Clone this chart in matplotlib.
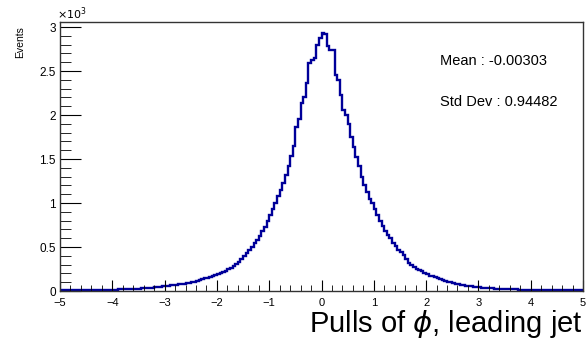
import numpy as np
import matplotlib
matplotlib.use("Agg")
import matplotlib.pyplot as plt
from matplotlib.ticker import MultipleLocator, FuncFormatter

plt.rcParams['font.family'] = ['Liberation Sans', 'DejaVu Sans']

# histogram: 200 bins from -5 to 5 (width 0.05)
bin_edges = np.linspace(-5, 5, 201)
counts = [
    # -5 .. -4
    10, 12, 9, 11, 10, 13, 11, 12, 10, 12, 13, 11, 14, 12, 13, 15, 14, 13, 16, 15,
    # -4 .. -3
    17, 16, 18, 20, 19, 21, 22, 24, 23, 26, 27, 29, 31, 33, 36, 38, 42, 45, 49, 53,
    # -3 .. -2
    56, 60, 63, 67, 70, 74, 79, 82, 88, 92, 98, 106, 115, 125, 135, 146, 152, 162, 172, 182,
    # -2 .. -1
    192, 205, 218, 232, 248, 265, 285, 305, 330, 360, 395, 430, 465, 500, 540, 585, 630, 680, 730, 790,
    # -1 .. 0
    860, 930, 1000, 1080, 1150, 1230, 1320, 1420, 1530, 1650, 1860, 1960, 2140, 2200, 2360, 2590, 2620, 2650, 2800, 2880,
    # 0 .. 1
    2930, 2920, 2780, 2740, 2740, 2460, 2400, 2230, 2060, 2000, 1900, 1750, 1640, 1520, 1420, 1300, 1200, 1130, 1040, 1000,
    # 1 .. 2
    930, 860, 800, 740, 680, 640, 600, 550, 510, 470, 440, 405, 360, 320, 295, 275, 255, 240, 225, 210,
    # 2 .. 3
    190, 175, 165, 155, 145, 135, 125, 115, 105, 98, 92, 85, 78, 72, 66, 62, 57, 53, 48, 45,
    # 3 .. 4
    42, 39, 36, 34, 31, 29, 28, 26, 24, 23, 22, 20, 19, 18, 18, 17, 16, 15, 15, 14,
    # 4 .. 5
    14, 13, 13, 12, 12, 11, 12, 11, 10, 11, 10, 10, 9, 10, 9, 9, 8, 9, 8, 8,
]
mean_val = -0.00303
std_val = 0.94482

fig = plt.figure(figsize=(5.87, 3.44), dpi=100)
ax = fig.add_axes([60/587, 53/344, 523/587, 269/344])

ax.stairs(counts, bin_edges, color="#000099", linewidth=1.7)

ax.set_xlim(-5, 5)
ax.set_ylim(0, 3057)

ax.xaxis.set_major_locator(MultipleLocator(1))
ax.xaxis.set_minor_locator(MultipleLocator(0.2))
ax.yaxis.set_major_locator(MultipleLocator(500))
ax.yaxis.set_minor_locator(MultipleLocator(100))
ax.yaxis.set_major_formatter(FuncFormatter(lambda v, p: f"{v/1000:g}"))
ax.xaxis.set_major_formatter(FuncFormatter(lambda v, p: f"{v:g}".replace("-", "\u2212")))

ax.tick_params(axis="x", which="major", direction="in", length=8, labelsize=8, pad=5)
ax.tick_params(axis="x", which="minor", direction="in", length=4)
ax.tick_params(axis="y", which="major", direction="in", length=15, labelsize=8.5, pad=3)
ax.tick_params(axis="y", which="minor", direction="in", length=8)
ax.tick_params(top=False, right=False, which="both")
for s in ax.spines.values():
    s.set_color("#333333")
    s.set_linewidth(1.0)

fig.text(57/587, 1 - 14/344, r"$\times10^{3}$", fontsize=8, ha="left", va="center")
fig.text(20/587, 1 - 26/344, "Events", rotation=90, fontsize=7.5, ha="center", va="top")
fig.text(583/587, 1 - 324/344, r"Pulls of $\phi$, leading jet", fontsize=21,
         ha="right", va="center")

ax.text(440/587, 1 - 61/344, f"Mean : {mean_val:.5f}", transform=fig.transFigure,
        fontsize=10.5, ha="left", va="center")
ax.text(440/587, 1 - 102/344, f"Std Dev : {std_val:.5f}", transform=fig.transFigure,
        fontsize=10.5, ha="left", va="center")

fig.savefig("out.png", dpi=100)
